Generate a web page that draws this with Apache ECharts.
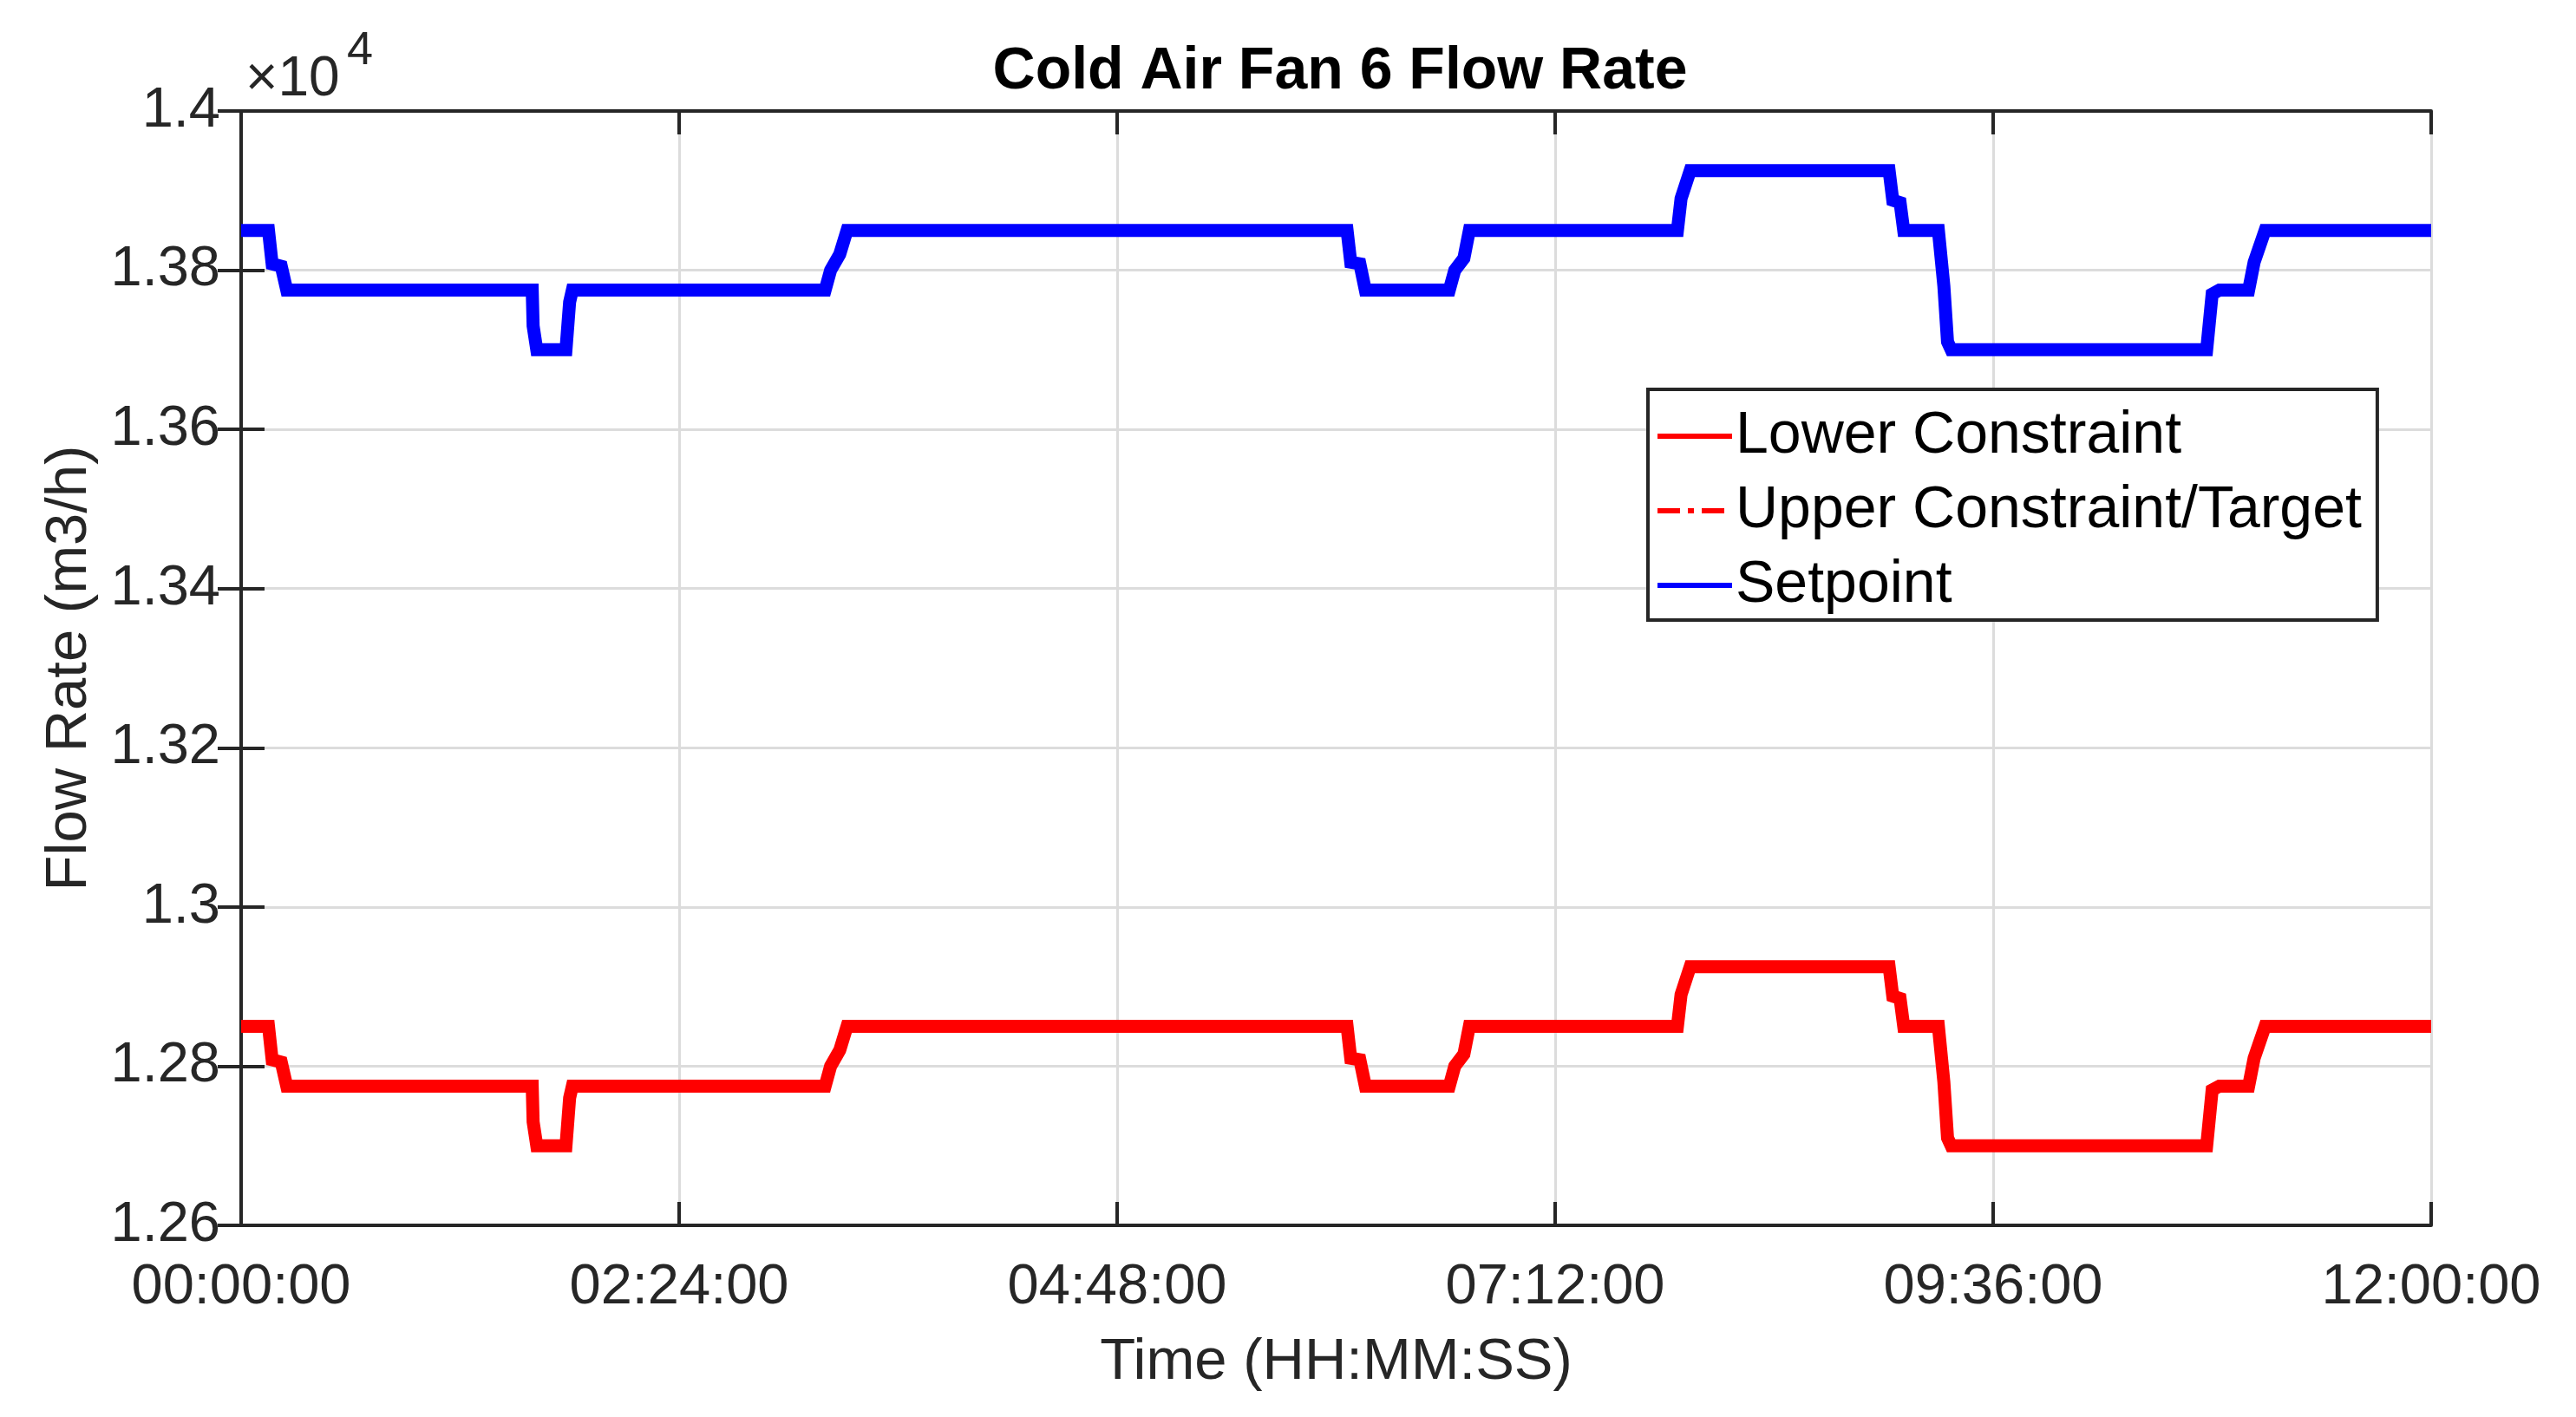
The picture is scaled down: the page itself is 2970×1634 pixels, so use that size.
<!DOCTYPE html>
<html>
<head>
<meta charset="utf-8">
<script src="https://cdn.jsdelivr.net/npm/echarts@6/dist/echarts.min.js"></script>
<style>
html,body{margin:0;padding:0;background:#fff;}
#chart{width:2970px;height:1634px;}
</style>
</head>
<body>
<div id="chart"></div>
<script>
// Time of each point, in hours
var timeHours = [0, 0.15, 0.17, 0.22, 0.25, 1.595, 1.60, 1.62, 1.78, 1.80, 1.815, 3.20, 3.23, 3.28, 3.32,
  6.06, 6.08, 6.13, 6.16, 6.62, 6.65, 6.70, 6.73, 7.87, 7.89, 7.94, 9.03, 9.05, 9.09, 9.11,
  9.30, 9.33, 9.35, 9.37, 10.77, 10.80, 10.84, 11.00, 11.03, 11.09, 12.00];
// Setpoint (m3/h)
var setpoint = [13850, 13850, 13808, 13805, 13775, 13775, 13730, 13700, 13700, 13760, 13775, 13775, 13800, 13820, 13850,
  13850, 13810, 13808, 13775, 13775, 13800, 13815, 13850, 13850, 13890, 13925, 13925, 13888, 13885, 13850,
  13850, 13780, 13710, 13700, 13700, 13770, 13775, 13775, 13810, 13850, 13850];
// Upper constraint / target (m3/h)
var upperConstraint = [13850, 13850, 13808, 13805, 13775, 13775, 13730, 13700, 13700, 13760, 13775, 13775, 13800, 13820, 13850,
  13850, 13810, 13808, 13775, 13775, 13800, 13815, 13850, 13850, 13890, 13925, 13925, 13888, 13885, 13850,
  13850, 13780, 13710, 13700, 13700, 13770, 13775, 13775, 13810, 13850, 13850];
// Lower constraint (m3/h)
var lowerConstraint = [12850, 12850, 12808, 12805, 12775, 12775, 12730, 12700, 12700, 12760, 12775, 12775, 12800, 12820, 12850,
  12850, 12810, 12808, 12775, 12775, 12800, 12815, 12850, 12850, 12890, 12925, 12925, 12888, 12885, 12850,
  12850, 12780, 12710, 12700, 12700, 12770, 12775, 12775, 12810, 12850, 12850];
var seriesNames = ['Lower Constraint', 'Upper Constraint/Target', 'Setpoint'];
var yTicks = [12600, 12800, 13000, 13200, 13400, 13600, 13800, 14000];
var xTickSeconds = [0, 8640, 17280, 25920, 34560, 43200];

function pairs(vals) {
  return timeHours.map(function (t, i) { return [t * 3600, vals[i]]; });
}
function hms(v) {
  var s = Math.round(v);
  var h = Math.floor(s / 3600), m = Math.floor((s % 3600) / 60), sec = s % 60;
  function p(n) { return (n < 10 ? '0' : '') + n; }
  return p(h) + ':' + p(m) + ':' + p(sec);
}
var FONT = '"Liberation Sans", Arial, Helvetica, sans-serif';
var AX = '#262626';
var chart = echarts.init(document.getElementById('chart'));
var commonX = {
  type: 'value', min: xTickSeconds[0], max: xTickSeconds[xTickSeconds.length - 1], interval: 8640
};
var commonY = {
  type: 'value', min: yTicks[0], max: yTicks[yTicks.length - 1], interval: 200
};
var lineBase = { cap: 'butt', join: 'miter' };
chart.setOption({
  animation: false,
  backgroundColor: '#fff',
  title: {
    text: 'Cold Air Fan 6 Flow Rate',
    left: 1540, textAlign: 'center', top: 44,
    textStyle: { fontFamily: FONT, fontSize: 68, fontWeight: 'bold', color: '#000' }
  },
  grid: { left: 278, right: 167, top: 128, bottom: 221, containLabel: false },
  legend: {
    orient: 'vertical', left: 1900, top: 449,
    data: seriesNames,
    itemWidth: 86, itemHeight: 6, itemGap: 18,
    padding: [20, 18, 6, 8],
    borderColor: AX, borderWidth: 4, backgroundColor: '#fff',
    lineStyle: { width: 6 },
    itemStyle: { opacity: 0 },
    textStyle: { fontFamily: FONT, fontSize: 68, color: '#000', lineHeight: 68, padding: [0, 0, 0, -1] }
  },
  xAxis: [
    Object.assign({}, commonX, {
      position: 'bottom',
      name: 'Time (HH:MM:SS)', nameLocation: 'middle', nameGap: 125,
      nameTextStyle: { fontFamily: FONT, fontSize: 67, color: AX },
      axisLine: { show: true, lineStyle: { color: AX, width: 4 } },
      axisTick: { show: true, inside: true, length: 27, lineStyle: { color: AX, width: 4 } },
      axisLabel: { fontFamily: FONT, fontSize: 65, color: AX, margin: 40, formatter: hms },
      splitLine: { show: true, lineStyle: { color: '#dcdcdc', width: 3 } }
    }),
    Object.assign({}, commonX, {
      position: 'top',
      axisLine: { show: true, lineStyle: { color: AX, width: 4 } },
      axisTick: { show: true, inside: true, length: 27, lineStyle: { color: AX, width: 4 } },
      axisLabel: { show: false },
      splitLine: { show: false }
    })
  ],
  yAxis: [
    Object.assign({}, commonY, {
      position: 'left',
      name: 'Flow Rate (m3/h)', nameLocation: 'middle', nameGap: 164,
      nameTextStyle: { fontFamily: FONT, fontSize: 67, color: AX },
      axisLine: { show: true, lineStyle: { color: AX, width: 4 } },
      axisTick: { show: true, inside: true, length: 27, lineStyle: { color: AX, width: 4 } },
      axisLabel: { fontFamily: FONT, fontSize: 65, color: AX, margin: 24,
        formatter: function (v) { return String(+(v / 10000).toFixed(2)); } },
      splitLine: { show: true, lineStyle: { color: '#dcdcdc', width: 3 } }
    }),
    Object.assign({}, commonY, {
      position: 'right',
      axisLine: { show: true, lineStyle: { color: AX, width: 4 } },
      axisTick: { show: true, inside: true, length: 27, lineStyle: { color: AX, width: 4 } },
      axisLabel: { show: false },
      splitLine: { show: false }
    })
  ],
  graphic: [
    { type: 'text', left: 283, top: 60, style: { text: '×10', fontFamily: FONT, fontSize: 64, fill: AX } },
    { type: 'text', left: 400, top: 32, style: { text: '4', fontFamily: FONT, fontSize: 54, fill: AX } }
  ],
  series: [
    { name: seriesNames[0], type: 'line', data: pairs(lowerConstraint), showSymbol: false, symbol: 'none',
      color: '#ff0000', lineStyle: Object.assign({ color: '#ff0000', width: 15 }, lineBase), z: 3 },
    { name: seriesNames[1], type: 'line', data: pairs(upperConstraint), showSymbol: false, symbol: 'none',
      color: '#ff0000', lineStyle: Object.assign({ color: '#ff0000', width: 10, type: [26, 9, 7, 9] }, lineBase), z: 3 },
    { name: seriesNames[2], type: 'line', data: pairs(setpoint), showSymbol: false, symbol: 'none',
      color: '#0000ff', lineStyle: Object.assign({ color: '#0000ff', width: 15 }, lineBase), z: 4 }
  ]
});
</script>
</body>
</html>
